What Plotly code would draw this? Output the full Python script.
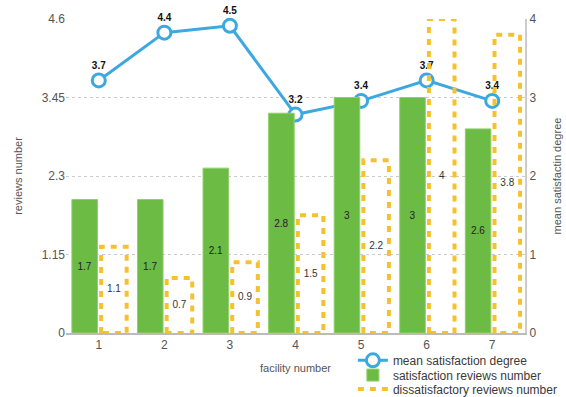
import plotly.graph_objects as go

facilities = [1, 2, 3, 4, 5, 6, 7]
satisfaction_reviews = [1.7, 1.7, 2.1, 2.8, 3.0, 3.0, 2.6]
dissatisfactory_reviews = [1.1, 0.7, 0.9, 1.5, 2.2, 4.0, 3.8]
mean_satisfaction = [3.7, 4.4, 4.5, 3.2, 3.4, 3.7, 3.4]
left_tickvals = [0, 1.15, 2.3, 3.45, 4.6]
left_ticktext = ["0", "1.15", "2.3", "3.45", "4.6"]
right_tickvals = [0, 1, 2, 3, 4]

GREEN = "#6cbb45"
GOLD = "#f6c12f"
BLUE = "#3ca8df"
FONT = "Liberation Sans, Arial, sans-serif"

BAR_W = 0.39
GREEN_OFF = -0.41
DASH_L, DASH_R = 0.035, 0.425

fig = go.Figure()

fig.add_trace(go.Bar(
    x=facilities, y=satisfaction_reviews, yaxis="y2",
    width=BAR_W, offset=GREEN_OFF,
    marker=dict(color=GREEN, line=dict(color="#8fd06a", width=1)),
    text=[f"{v:g}" for v in satisfaction_reviews],
    textposition="inside", insidetextanchor="middle",
    textfont=dict(size=10, color="#222", family=FONT),
    constraintext="none", textangle=0,
    name="satisfaction reviews number", legend="legend2",
))

# dashed outlined bars
rx, ry = [], []
for f, v in zip(facilities, dissatisfactory_reviews):
    x0, x1 = f + DASH_L, f + DASH_R
    rx += [x0, x0, x1, x1, x0, None]
    ry += [0, v, v, 0, 0, None]
fig.add_trace(go.Scatter(
    x=rx, y=ry, yaxis="y2", mode="lines",
    line=dict(color=GOLD, width=4, dash="6px,6px"),
    name="dissatisfactory reviews number", legend="legend3",
    hoverinfo="skip", cliponaxis=False,
))
fig.add_trace(go.Scatter(
    x=[f + (DASH_L + DASH_R) / 2 for f in facilities],
    y=[v / 2 for v in dissatisfactory_reviews], yaxis="y2",
    mode="text", text=[f"{v:g}" for v in dissatisfactory_reviews],
    textfont=dict(size=10, color="#333", family=FONT),
    showlegend=False, hoverinfo="skip",
))

fig.add_trace(go.Scatter(
    x=facilities, y=mean_satisfaction, yaxis="y",
    mode="lines+markers+text",
    line=dict(color=BLUE, width=3),
    marker=dict(symbol="circle", size=13, color="white",
                line=dict(color=BLUE, width=3)),
    text=[f"<b>{v:g}</b>" for v in mean_satisfaction],
    textposition="top center",
    textfont=dict(size=10, color="#111", family=FONT),
    cliponaxis=False,
    name="mean satisfaction degree", legend="legend",
))

leg_common = dict(x=0.625, xanchor="left", yanchor="middle",
                  orientation="v", font=dict(size=12, color="#3a3a3a"),
                  bgcolor="rgba(0,0,0,0)", itemwidth=30)

fig.update_layout(
    width=566, height=397,
    margin=dict(l=66, r=41, t=19, b=64, autoexpand=False),
    paper_bgcolor="white", plot_bgcolor="white",
    font=dict(family=FONT, size=12, color="#555"),
    showlegend=True,
    legend=dict(y=-0.087, **leg_common),
    legend2=dict(y=-0.134, **leg_common),
    legend3=dict(y=-0.178, **leg_common),
    xaxis=dict(range=[0.5, 7.5], tickvals=facilities,
               ticktext=[str(f) for f in facilities],
               showline=True, linecolor="#bbbbbb", linewidth=2,
               showgrid=False, zeroline=False, ticks="",
               tickfont=dict(size=12, color="#555"),
               title=dict(text="facility number", standoff=13,
                          font=dict(size=11, color="#555"))),
    yaxis=dict(range=[0, 4.6], tickvals=left_tickvals, ticktext=left_ticktext,
               showgrid=True, gridcolor="#cccccc", griddash="dot", gridwidth=1,
               zeroline=False, showline=False,
               tickfont=dict(size=12, color="#555"),
               title=dict(text="reviews number", standoff=16,
                          font=dict(size=11, color="#555"))),
    yaxis2=dict(range=[0, 4], tickvals=right_tickvals, overlaying="y",
                side="right", showgrid=False, zeroline=False,
                showline=True, linecolor="#cccccc", linewidth=2,
                tickfont=dict(size=12, color="#555"),
                title=dict(text="mean satisfactin degree", standoff=18,
                           font=dict(size=11, color="#555"))),
)

fig.write_html("out.html")
